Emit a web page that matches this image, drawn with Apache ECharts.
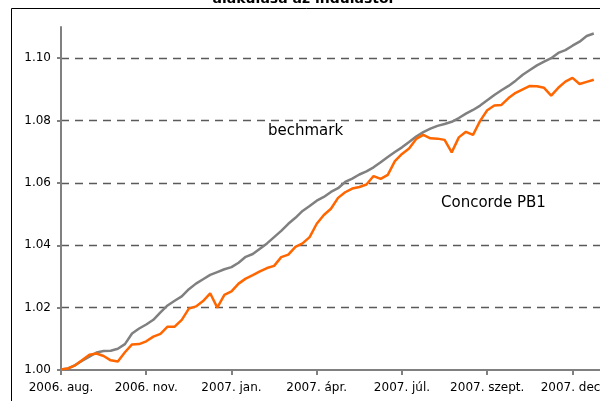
<!DOCTYPE html>
<html><head><meta charset="utf-8">
<script src="https://cdn.jsdelivr.net/npm/echarts@6/dist/echarts.min.js"></script>
<style>html,body{margin:0;padding:0;background:#fff}#c{width:600px;height:401px}</style>
</head><body><div id="c"></div>
<script>
// x-axis tick labels, one every 12 sample points
const tickLabels = ['2006. aug.', '2006. nov.', '2007. jan.', '2007. ápr.', '2007. júl.', '2007. szept.', '2007. dec.'];
const pointsPerTick = 12;
const totalSlots = 78;
const yTicks = [1.00, 1.02, 1.04, 1.06, 1.08, 1.10];
const seriesNames = ['bechmark', 'Concorde PB1'];

const benchmark = [
  1.0002, 1.0005, 1.0016, 1.0030, 1.0043, 1.0056, 1.0061, 1.0062, 1.0068, 1.0083,
  1.0117, 1.0133, 1.0146, 1.0161, 1.0185, 1.0207, 1.0222, 1.0236, 1.0259, 1.0277,
  1.0291, 1.0305, 1.0314, 1.0323, 1.0330, 1.0344, 1.0363, 1.0372, 1.0389, 1.0406,
  1.0426, 1.0446, 1.0469, 1.0488, 1.0510, 1.0526, 1.0543, 1.0555, 1.0571, 1.0583,
  1.0603, 1.0614, 1.0627, 1.0637, 1.0650, 1.0666, 1.0683, 1.0699, 1.0714, 1.0731,
  1.0749, 1.0763, 1.0774, 1.0783, 1.0789, 1.0796, 1.0808, 1.0822, 1.0834, 1.0848,
  1.0865, 1.0882, 1.0897, 1.0911, 1.0928, 1.0947, 1.0962, 1.0977, 1.0989, 1.1000,
  1.1017, 1.1026, 1.1040, 1.1053, 1.1071, 1.1079
];
const concorde = [
  1.0002, 1.0005, 1.0015, 1.0032, 1.0049, 1.0053, 1.0045, 1.0031, 1.0027, 1.0057,
  1.0082, 1.0083, 1.0092, 1.0107, 1.0116, 1.0139, 1.0139, 1.0161, 1.0197, 1.0204,
  1.0221, 1.0246, 1.0200, 1.0241, 1.0252, 1.0277, 1.0293, 1.0304, 1.0316, 1.0327,
  1.0334, 1.0362, 1.0370, 1.0395, 1.0406, 1.0426, 1.0469, 1.0497, 1.0517, 1.0552,
  1.0570, 1.0582, 1.0587, 1.0595, 1.0622, 1.0613, 1.0626, 1.0670, 1.0693, 1.0710,
  1.0741, 1.0754, 1.0743, 1.0742, 1.0738, 1.0698, 1.0746, 1.0764, 1.0754, 1.0799,
  1.0833, 1.0848, 1.0850, 1.0872, 1.0889, 1.0900, 1.0911, 1.0910, 1.0905, 1.0880,
  1.0905, 1.0925, 1.0937, 1.0917, 1.0924, 1.0931
];

const categories = [];
for (let i = 0; i < totalSlots; i++) {
  const k = i / pointsPerTick;
  categories.push(Number.isInteger(k) && tickLabels[k] ? tickLabels[k] : '');
}

const chart = echarts.init(document.getElementById('c'), null, {renderer: 'canvas'});
const font = 'DejaVu Sans, Verdana, sans-serif';
chart.setOption({
  animation: false,
  backgroundColor: '#ffffff',
  grid: {left: 61, top: 27, bottom: 31, width: 547, containLabel: false, outerBoundsMode: 'none'},
  xAxis: {
    type: 'category',
    data: categories,
    boundaryGap: false,
    axisLine: {lineStyle: {color: '#808080', width: 2}},
    axisTick: {interval: pointsPerTick - 1, length: 5, lineStyle: {color: '#808080', width: 2}},
    axisLabel: {interval: pointsPerTick - 1, color: '#000', fontFamily: font, fontSize: 12, margin: 12, hideOverlap: false},
    splitLine: {show: false}
  },
  yAxis: {
    type: 'value',
    min: 1.00,
    max: 1.11,
    interval: 0.02,
    axisLine: {show: true, lineStyle: {color: '#808080', width: 2}},
    axisTick: {show: true, customValues: yTicks, length: 4, lineStyle: {color: '#808080', width: 2}},
    axisLabel: {customValues: yTicks, color: '#000', fontFamily: font, fontSize: 12, margin: 10,
      formatter: v => v.toFixed(2)},
    splitLine: {show: true, showMinLine: false,
      lineStyle: {color: '#5a5a5a', width: 1.3, type: [8, 6]}}
  },
  series: [
    {name: seriesNames[0], type: 'line', data: benchmark, showSymbol: false,
      lineStyle: {color: '#808080', width: 2.5}, z: 2},
    {name: seriesNames[1], type: 'line', data: concorde, showSymbol: false,
      lineStyle: {color: '#FF6600', width: 2.5}, z: 3}
  ],
  graphic: [
    {type: 'rect', shape: {x: 11.5, y: 8.5, width: 620, height: 420}, silent: true,
      style: {fill: null, stroke: '#000', lineWidth: 1}},
    {type: 'text', x: 303, y: 6, silent: true,
      style: {text: 'alakulása az indulástól', font: 'bold 14px ' + font, fill: '#000', align: 'center', verticalAlign: 'bottom'}},
    {type: 'text', x: 268, y: 131, silent: true,
      style: {text: seriesNames[0], font: '15px ' + font, fill: '#000', align: 'left', verticalAlign: 'middle'}},
    {type: 'text', x: 441, y: 203, silent: true,
      style: {text: seriesNames[1], font: '15px ' + font, fill: '#000', align: 'left', verticalAlign: 'middle'}}
  ]
});
</script></body></html>
